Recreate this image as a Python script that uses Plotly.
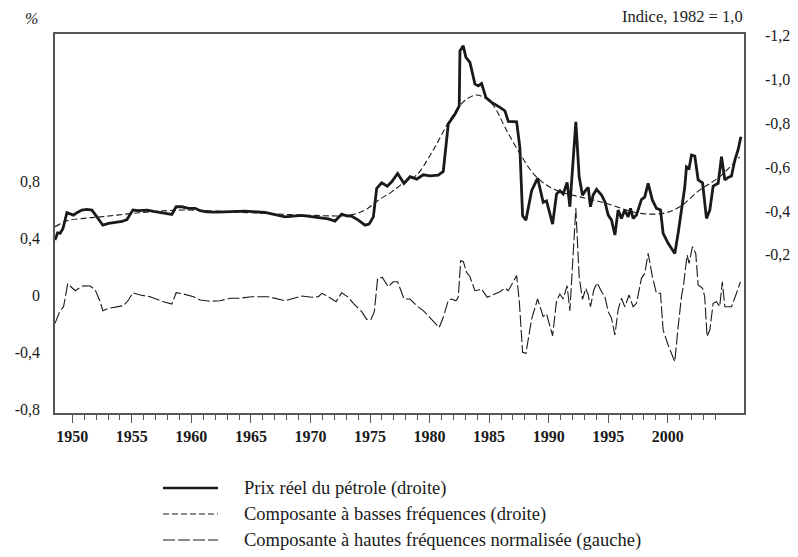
import plotly.graph_objects as go

# ---------------- data ----------------
price_years = [1948.55, 1948.77, 1948.99, 1949.22, 1949.55, 1949.77, 1950.11, 1950.39, 1950.81, 1951.23,
               1951.65, 1952.07, 1952.57, 1953.05, 1953.61, 1954.17, 1954.59, 1955.09, 1955.56, 1956.27,
               1956.82, 1957.66, 1958.36, 1958.72, 1959.20, 1959.76, 1960.32, 1960.74, 1961.30, 1962.14,
               1962.69, 1963.25, 1964.51, 1966.19, 1967.87, 1969.27, 1970.95, 1971.50, 1972.06, 1972.62,
               1973.04, 1973.46, 1974.02, 1974.58, 1974.92, 1975.28, 1975.56, 1975.98, 1976.45, 1976.82,
               1977.32, 1977.66, 1977.85, 1978.36, 1978.92, 1979.47, 1980.03, 1980.73, 1981.15, 1981.57,
               1982.13, 1982.49, 1982.55, 1982.83, 1983.05, 1983.39, 1983.81, 1984.09, 1984.37, 1984.73,
               1985.21, 1985.91, 1986.33, 1986.61, 1987.31, 1987.58, 1987.81, 1988.09, 1988.57, 1989.07,
               1989.54, 1989.82, 1990.33, 1990.66, 1990.94, 1991.22, 1991.55, 1991.78, 1992.28, 1992.56,
               1992.84, 1993.12, 1993.32, 1993.51, 1993.73, 1994.02, 1994.44, 1994.72, 1995.00, 1995.28,
               1995.56, 1995.83, 1996.11, 1996.39, 1996.67, 1996.87, 1997.09, 1997.37, 1997.79, 1998.07,
               1998.35, 1998.71, 1999.05, 1999.39, 1999.61, 2000.03, 2000.59, 2000.87, 2001.15, 2001.43,
               2001.57, 2001.79, 2001.99, 2002.27, 2002.55, 2002.92, 2003.25, 2003.53, 2003.81, 2004.23,
               2004.51, 2004.79, 2005.07, 2005.35, 2005.63, 2005.91, 2006.14]
price_values = [0.267, 0.300, 0.298, 0.320, 0.392, 0.389, 0.381, 0.392, 0.404, 0.407,
                0.404, 0.373, 0.335, 0.343, 0.349, 0.352, 0.361, 0.404, 0.401, 0.404,
                0.398, 0.392, 0.384, 0.419, 0.419, 0.412, 0.412, 0.401, 0.396, 0.395,
                0.396, 0.396, 0.399, 0.393, 0.373, 0.380, 0.369, 0.364, 0.354, 0.386,
                0.378, 0.376, 0.358, 0.335, 0.340, 0.373, 0.503, 0.528, 0.513, 0.533,
                0.571, 0.544, 0.525, 0.556, 0.545, 0.565, 0.560, 0.563, 0.580, 0.796,
                0.841, 0.879, 1.130, 1.153, 1.100, 1.077, 0.978, 0.970, 0.981, 0.917,
                0.895, 0.872, 0.856, 0.808, 0.806, 0.690, 0.378, 0.358, 0.492, 0.550,
                0.439, 0.446, 0.340, 0.477, 0.492, 0.477, 0.530, 0.419, 0.806, 0.556,
                0.472, 0.495, 0.507, 0.419, 0.472, 0.498, 0.472, 0.442, 0.381, 0.358,
                0.290, 0.404, 0.366, 0.404, 0.373, 0.412, 0.366, 0.381, 0.452, 0.464,
                0.526, 0.449, 0.412, 0.404, 0.298, 0.252, 0.206, 0.298, 0.404, 0.510,
                0.601, 0.594, 0.655, 0.650, 0.541, 0.528, 0.366, 0.404, 0.513, 0.526,
                0.647, 0.541, 0.553, 0.559, 0.632, 0.680, 0.738]

low_years = [1948.55, 1949.55, 1950.95, 1952.35, 1953.75, 1955.14, 1956.54, 1959.34, 1963.25, 1966.5,
             1970.0, 1973.3, 1974.58, 1975.7, 1976.82, 1977.94, 1978.9, 1980.3, 1981.7, 1982.83,
             1983.81, 1984.5, 1985.34, 1986.46, 1987.58, 1988.7, 1989.82, 1990.94, 1992.62, 1994.86,
             1996.53, 1997.65, 1999.61, 2001.01, 2002.68, 2004.36, 2006.04]
low_values = [0.328, 0.355, 0.366, 0.373, 0.381, 0.389, 0.396, 0.404, 0.396, 0.388,
              0.380, 0.381, 0.404, 0.449, 0.487, 0.533, 0.563, 0.677, 0.814, 0.897,
              0.928, 0.920, 0.882, 0.768, 0.662, 0.571, 0.518, 0.488, 0.464, 0.434,
              0.404, 0.389, 0.389, 0.419, 0.495, 0.556, 0.647]

high_years = [1948.55, 1948.94, 1949.27, 1949.61, 1949.89, 1950.25, 1950.67, 1950.95, 1951.51, 1951.93,
              1952.29, 1952.57, 1953.05, 1953.75, 1954.30, 1954.72, 1955.09, 1955.70, 1956.54, 1957.66,
              1958.36, 1958.72, 1959.34, 1960.18, 1960.74, 1961.58, 1962.42, 1963.25, 1963.96, 1965.08,
              1966.47, 1967.87, 1969.27, 1970.11, 1970.66, 1970.95, 1971.50, 1972.15, 1972.62, 1973.18,
              1973.60, 1974.30, 1974.72, 1975.08, 1975.36, 1975.64, 1976.03, 1976.53, 1976.95, 1977.32,
              1977.66, 1977.85, 1978.36, 1978.92, 1979.47, 1980.17, 1980.81, 1981.15, 1981.57, 1981.85,
              1982.21, 1982.41, 1982.61, 1982.83, 1983.11, 1983.39, 1983.81, 1984.09, 1984.37, 1984.84,
              1985.34, 1985.91, 1986.33, 1986.61, 1987.31, 1987.53, 1987.81, 1988.09, 1988.57, 1989.07,
              1989.54, 1989.82, 1990.33, 1990.66, 1990.94, 1991.22, 1991.55, 1991.78, 1992.28, 1992.56,
              1992.84, 1993.12, 1993.32, 1993.51, 1993.79, 1994.07, 1994.44, 1994.72, 1995.00, 1995.28,
              1995.56, 1995.83, 1996.11, 1996.39, 1996.75, 1997.09, 1997.37, 1997.79, 1998.07, 1998.35,
              1998.71, 1999.05, 1999.39, 1999.61, 2000.03, 2000.59, 2000.87, 2001.15, 2001.34, 2001.62,
              2001.79, 2002.07, 2002.35, 2002.55, 2002.92, 2003.10, 2003.30, 2003.53, 2003.81, 2004.09,
              2004.36, 2004.58, 2004.79, 2005.35, 2005.77, 2006.10]
high_values = [-0.199, -0.117, -0.082, 0.077, 0.058, 0.030, 0.054, 0.065, 0.063, 0.035,
               -0.035, -0.110, -0.093, -0.082, -0.075, -0.035, 0.016, 0.000, -0.012, -0.047,
               -0.063, 0.016, 0.007, -0.012, -0.035, -0.044, -0.040, -0.023, -0.023, -0.012,
               -0.012, -0.040, -0.007, -0.016, -0.012, 0.012, -0.012, -0.047, 0.016, -0.016,
               -0.058, -0.117, -0.171, -0.171, -0.117, 0.117, 0.124, 0.058, 0.093, 0.093,
               0.023, -0.028, -0.028, -0.075, -0.110, -0.168, -0.227, -0.156, -0.040, -0.028,
               -0.040, -0.016, 0.241, 0.236, 0.159, 0.128, 0.030, 0.035, 0.042, -0.016,
               0.002, 0.023, 0.049, 0.030, 0.136, -0.040, -0.402, -0.409, -0.168, -0.028,
               -0.152, -0.133, -0.286, -0.040, 0.007, -0.028, 0.065, -0.110, 0.608, 0.128,
               -0.030, 0.047, 0.000, -0.082, 0.035, 0.086, 0.023, -0.012, -0.117, -0.164,
               -0.281, -0.105, -0.023, -0.082, 0.000, -0.082, -0.058, 0.117, 0.152, 0.292,
               0.128, 0.012, 0.012, -0.246, -0.351, -0.468, -0.222, -0.012, 0.082, 0.281,
               0.222, 0.339, 0.292, 0.070, 0.047, -0.012, -0.292, -0.246, -0.058, -0.047,
               -0.082, 0.093, -0.082, -0.082, 0.012, 0.093]

year_ticks = list(range(1950, 2001, 5))
minor_ticks = list(range(1950, 2005))
left_ticks = [-0.8, -0.4, 0.0, 0.4, 0.8]
left_labels = ["-0,8", "-0,4", "0", "0,4", "0,8"]
right_ticks = [0.2, 0.4, 0.6, 0.8, 1.0, 1.2]
right_labels = ["-0,2", "-0,4", "-0,6", "-0,8", "-1,0", "-1,2"]

names = ["Prix réel du pétrole (droite)",
         "Composante à basses fréquences (droite)",
         "Composante à hautes fréquences normalisée (gauche)"]

# ---------------- styling ----------------
INK = "#1a1a1a"
FRAME = "#555555"
FONT = "Liberation Serif"
# the page body has an 8px margin, so the figure is laid out 8px smaller
OFF = 8
W, H = 798 - OFF, 557 - OFF
ML, MR, MT, MB = 55 - OFF, 54, 34 - OFF, 144
PW, PH = W - ML - MR, H - MT - MB

styles = [dict(color=INK, width=2.8),
          dict(color=INK, width=1.1, dash="6px,3px"),
          dict(color=INK, width=1.1, dash="12px,3px")]

fig = go.Figure()
fig.add_trace(go.Scatter(x=price_years, y=price_values, yaxis="y2", mode="lines", name=names[0],
                         line=styles[0]))
fig.add_trace(go.Scatter(x=low_years, y=low_values, yaxis="y2", mode="lines", name=names[1],
                         line=dict(**styles[1], shape="spline", smoothing=1.0)))
fig.add_trace(go.Scatter(x=high_years, y=high_values, yaxis="y", mode="lines", name=names[2],
                         line=styles[2]))


def px_x(page_x):
    return (page_x - OFF - ML) / PW


def px_y(page_y):
    return (H - MB - (page_y - OFF)) / PH


# legend drawn below the plot (sample lines + text)
shapes = []
annotations = []
legend_rows = [488, 514, 540]
for name, st, row in zip(names, styles, legend_rows):
    shapes.append(dict(type="line", xref="paper", yref="paper",
                       x0=px_x(163), x1=px_x(218), y0=px_y(row), y1=px_y(row),
                       line=dict(color=st["color"], width=min(st["width"], 2.5),
                                 dash=st.get("dash", "solid"))))
    annotations.append(dict(text=name, xref="paper", yref="paper", x=px_x(242), y=px_y(row),
                            xanchor="left", yanchor="middle", showarrow=False,
                            font=dict(family=FONT, size=18.5, color=INK)))

annotations.append(dict(text="<i>%</i>", xref="paper", yref="paper", x=px_x(31), y=px_y(18),
                        xanchor="center", yanchor="middle", showarrow=False,
                        font=dict(family=FONT, size=16, color=INK)))
annotations.append(dict(text="Indice, 1982 = 1,0", xref="paper", yref="paper", x=px_x(745), y=px_y(16),
                        xanchor="right", yanchor="middle", showarrow=False,
                        font=dict(family=FONT, size=16.5, color=INK)))

fig.update_layout(
    template="none",
    width=W, height=H,
    margin=dict(l=ML, r=MR, t=MT, b=MB, pad=0, autoexpand=False),
    paper_bgcolor="white", plot_bgcolor="white",
    font=dict(family=FONT, color=INK, size=15),
    showlegend=False,
    xaxis=dict(range=[1948.55, 2006.4], showgrid=False, zeroline=False, automargin=False,
               showline=True, linecolor=FRAME, linewidth=1.5, mirror=True,
               tickmode="array", tickvals=year_ticks, ticktext=[str(y) for y in year_ticks],
               ticks="outside", ticklen=8, tickwidth=1, tickcolor=FRAME,
               tickfont=dict(family=FONT, size=16, color=INK, weight="bold"),
               minor=dict(tickmode="array", tickvals=minor_ticks, ticks="outside",
                          ticklen=5, tickwidth=1, tickcolor=FRAME, showgrid=False)),
    yaxis=dict(range=[-0.828, 1.8316], showgrid=False, zeroline=False, automargin=False,
               showline=True, linecolor=FRAME, linewidth=1.5,
               tickmode="array", tickvals=left_ticks, ticktext=left_labels,
               ticks="outside", ticklen=10, tickcolor="rgba(0,0,0,0)",
               tickfont=dict(family=FONT, size=16, color=INK)),
    yaxis2=dict(range=[-0.5214, 1.2068], overlaying="y", side="right", automargin=False,
                showgrid=False, zeroline=False,
                showline=True, linecolor=FRAME, linewidth=1.5,
                tickmode="array", tickvals=right_ticks, ticktext=right_labels,
                ticks="outside", ticklen=16, tickcolor="rgba(0,0,0,0)",
                tickfont=dict(family=FONT, size=16, color=INK)),
    shapes=shapes,
    annotations=annotations,
)

fig.write_html("out.html")
